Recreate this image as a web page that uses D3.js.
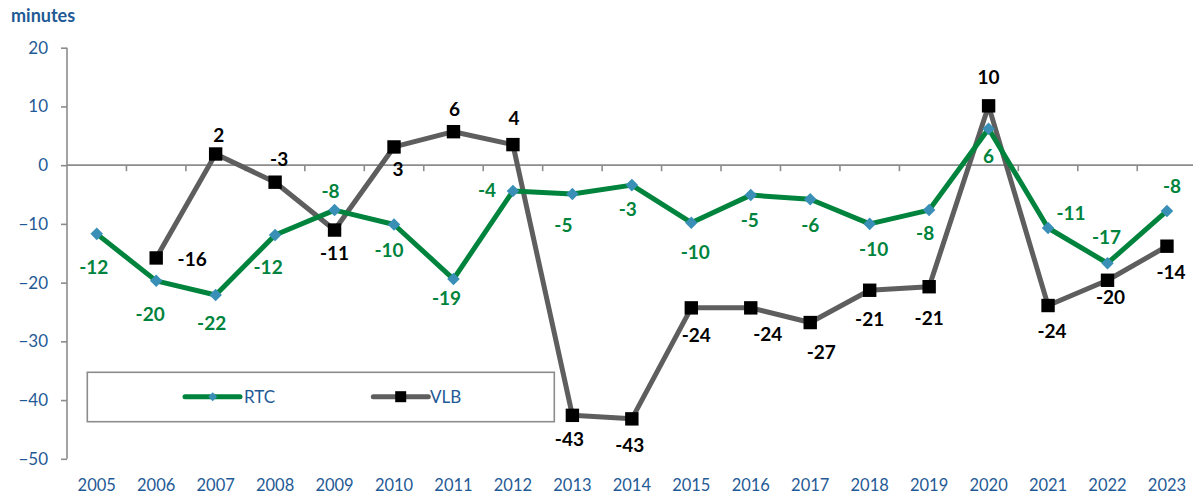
<!DOCTYPE html>
<html>
<head>
<meta charset="utf-8">
<script src="https://cdn.jsdelivr.net/npm/d3@7/dist/d3.min.js"></script>
<style>
html,body{margin:0;padding:0;background:#fff;}
svg{display:block;font-family:Lato,"Noto Sans",sans-serif;}
</style>
</head>
<body>
<svg id="chart" width="1193" height="493"></svg>
<script>
// ---- data ----
const years = ["2005","2006","2007","2008","2009","2010","2011","2012","2013","2014","2015","2016","2017","2018","2019","2020","2021","2022","2023"];
const rtc = [-11.7,-19.7,-22.1,-11.9,-7.65,-10.1,-19.4,-4.4,-4.9,-3.4,-9.8,-5.1,-5.8,-10.0,-7.65,6.2,-10.7,-16.7,-7.8];
const vlb = [null,-15.8,1.9,-2.9,-11.05,3.1,5.7,3.5,-42.6,-43.2,-24.3,-24.3,-26.8,-21.3,-20.7,10.1,-23.9,-19.6,-13.8];
const yTicks = [20,10,0,-10,-20,-30,-40,-50];
const seriesNames = ["RTC","VLB"];

// ---- layout (label offsets relative to the point, in px) ----
const rtcLabelOff = [[-3,33],[-6,33],[-4,28],[-7,32],[-4,-19],[-5,26],[-7,19],[-26,-1],[-9,31],[-4,24],[4,30],[-1,25],[0,26],[4,25],[-4,23],[0,28],[23,-15],[-1,-26],[5,-25]];
const vlbLabelOff = [null,[36,1],[3,-19],[4,-23],[0,23],[4,22],[1,-22],[1,-26],[-3,24],[-2,26],[5,27],[17,26],[11,30],[0,29],[0,32],[0,-28],[4,26],[3,17],[4,26]];

const svg = d3.select("#chart");
const x = d3.scaleBand().domain(years).range([67, 1196.7]).padding(0);
const y = d3.scaleLinear().domain([-50, 20]).range([458.8, 47.7]);
const cx = d => x(d) + x.bandwidth() / 2;

const axisColor = "#8c8c8c";
const tickTextColor = "#1f5a96";
const green = "#00843d";
const diamondColor = "#3a8fb7";
const gray = "#5e5e5e";

// y axis
const yAxis = d3.axisLeft(y).tickValues(yTicks).tickSize(6).tickPadding(13).tickFormat(d3.format("d"));
const gy = svg.append("g").attr("transform", "translate(67,0)").call(yAxis);
gy.select(".domain").attr("stroke", axisColor).attr("stroke-width", 1.6).attr("d", `M0,${y(20)}V${y(-50)}`);
gy.selectAll(".tick line").attr("stroke", axisColor).attr("stroke-width", 1.6);
gy.selectAll(".tick text").attr("fill", tickTextColor).style("font-size", "17px").style("font-family", "Lato");

// x axis at zero line, ticks at category boundaries
const gx = svg.append("g");
gx.append("line").attr("x1", 67).attr("x2", 1193).attr("y1", y(0)).attr("y2", y(0))
  .attr("stroke", axisColor).attr("stroke-width", 1.6);
gx.selectAll("line.bt").data(years.slice(1)).join("line").attr("class", "bt")
  .attr("x1", d => x(d)).attr("x2", d => x(d)).attr("y1", y(0)).attr("y2", y(0) + 6)
  .attr("stroke", axisColor).attr("stroke-width", 1.6);
gx.selectAll("text.yl").data(years).join("text").attr("class", "yl")
  .attr("x", d => cx(d)).attr("y", 490.5).attr("text-anchor", "middle")
  .attr("fill", tickTextColor).style("font-size", "16.5px").text(d => d);

// "minutes" title
svg.append("text").attr("x", 11).attr("y", 22).attr("fill", "#1f5a96")
  .style("font-size", "18px").style("font-weight", "bold").text("minutes");

// legend
const lg = svg.append("g");
lg.append("rect").attr("x", 87.3).attr("y", 372.3).attr("width", 467).attr("height", 49.4)
  .attr("fill", "#fff").attr("stroke", "#8c8c8c").attr("stroke-width", 1.6);
const ly = 396.7;
lg.append("line").attr("x1", 185).attr("x2", 240).attr("y1", ly).attr("y2", ly)
  .attr("stroke", green).attr("stroke-width", 5).attr("stroke-linecap", "round");
lg.append("path").attr("d", d3.symbol(d3.symbolDiamond2, 50)())
  .attr("transform", `translate(212.7,${ly})`).attr("fill", diamondColor);
lg.append("text").attr("x", 244).attr("y", ly).attr("dy", "0.35em").attr("fill", tickTextColor)
  .style("font-size", "17px").text(seriesNames[0]);
lg.append("line").attr("x1", 373.3).attr("x2", 428.3).attr("y1", ly).attr("y2", ly)
  .attr("stroke", gray).attr("stroke-width", 5).attr("stroke-linecap", "round");
lg.append("rect").attr("x", 400.7 - 5.5).attr("y", ly - 5.5).attr("width", 11).attr("height", 11).attr("fill", "#000");
lg.append("text").attr("x", 430).attr("y", ly).attr("dy", "0.35em").attr("fill", tickTextColor)
  .style("font-size", "17px").text(seriesNames[1]);

// lines
const line = d3.line().defined(d => d.v !== null).x(d => cx(d.year)).y(d => y(d.v));
const rtcData = years.map((yr, i) => ({year: yr, v: rtc[i], i}));
const vlbData = years.map((yr, i) => ({year: yr, v: vlb[i], i}));

svg.append("path").datum(vlbData).attr("d", line).attr("fill", "none")
  .attr("stroke", gray).attr("stroke-width", 5).attr("stroke-linejoin", "round");
svg.append("path").datum(rtcData).attr("d", line).attr("fill", "none")
  .attr("stroke", green).attr("stroke-width", 5).attr("stroke-linejoin", "round");

// markers
svg.selectAll("path.dm").data(rtcData).join("path").attr("class", "dm")
  .attr("d", d3.symbol(d3.symbolDiamond2, 100)())
  .attr("transform", d => `translate(${cx(d.year)},${y(d.v)})`).attr("fill", diamondColor);
svg.selectAll("rect.sq").data(vlbData.filter(d => d.v !== null)).join("rect").attr("class", "sq")
  .attr("x", d => cx(d.year) - 6.7).attr("y", d => y(d.v) - 6.7).attr("width", 13.4).attr("height", 13.4)
  .attr("fill", "#000");

// labels
const fmt = v => { const r = Math.round(v); return r < 0 ? "-" + Math.abs(r) : String(r); };
svg.selectAll("text.rl").data(rtcData).join("text").attr("class", "rl")
  .attr("x", d => cx(d.year) + rtcLabelOff[d.i][0]).attr("y", d => y(d.v) + rtcLabelOff[d.i][1])
  .attr("dy", "0.35em").attr("text-anchor", "middle").attr("fill", green)
  .style("font-size", "19px").style("font-weight", "bold").text(d => fmt(d.v));
svg.selectAll("text.vl").data(vlbData.filter(d => d.v !== null)).join("text").attr("class", "vl")
  .attr("x", d => cx(d.year) + vlbLabelOff[d.i][0]).attr("y", d => y(d.v) + vlbLabelOff[d.i][1])
  .attr("dy", "0.35em").attr("text-anchor", "middle").attr("fill", "#000")
  .style("font-size", "19px").style("font-weight", "bold").text(d => fmt(d.v));
</script>
</body>
</html>
